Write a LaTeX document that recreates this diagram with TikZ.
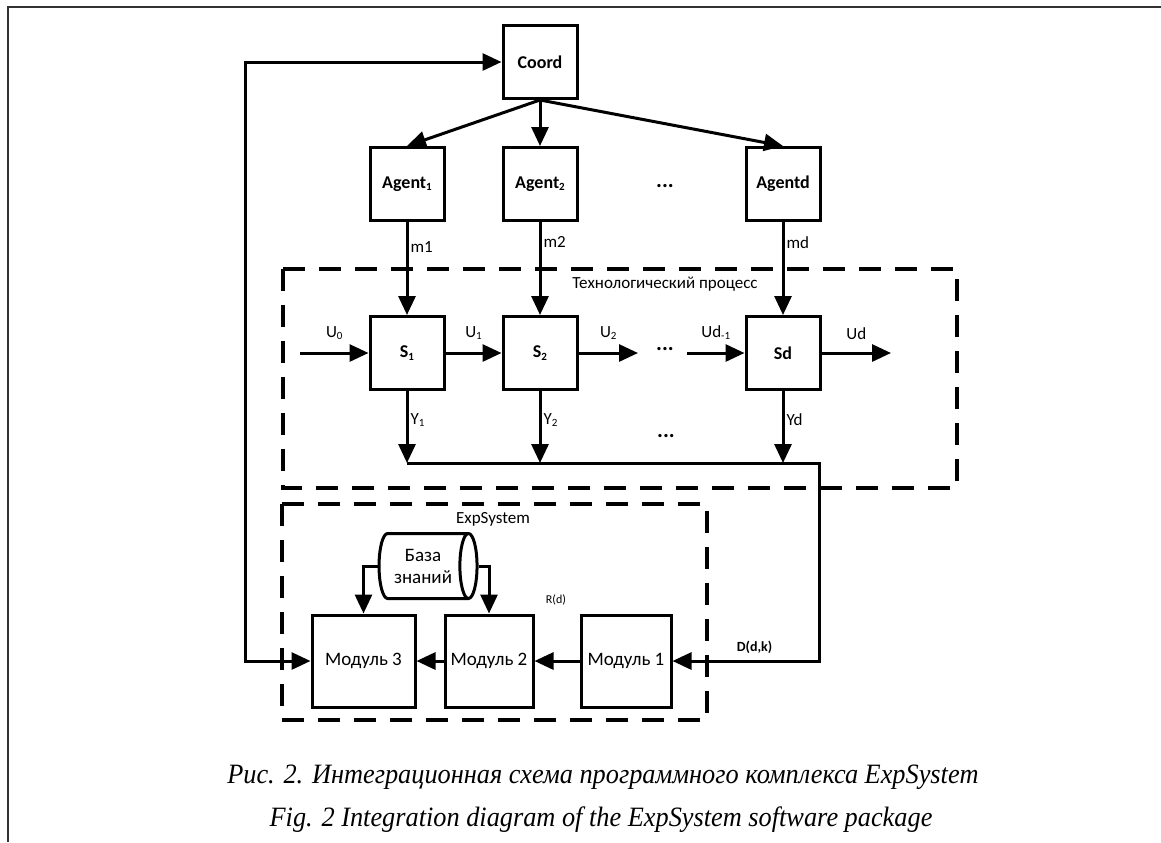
\documentclass[tikz,border=0pt]{standalone}
\usepackage{fontspec}
\setmainfont{Carlito}
\newfontfamily\capfont{Liberation Serif}
\usetikzlibrary{arrows.meta,shapes.geometric}
\newcommand{\ix}[1]{\raisebox{-0.25ex}{\fontsize{5.5}{6}\selectfont #1}}

\begin{document}
\begin{tikzpicture}[x=0.5pt,y=-0.5pt,line join=miter,>={Triangle[length=9.5pt,width=8.5pt]}]
  \tikzstyle{block}=[draw,line width=1.5pt,inner sep=0pt,minimum width=37pt,minimum height=36.5pt,font=\fontsize{9}{10}\selectfont\bfseries]
  \tikzstyle{module}=[draw,line width=1.5pt,inner sep=0pt,minimum height=46pt,font=\fontsize{9.5}{11}\selectfont]
  \tikzstyle{lbl}=[font=\fontsize{8.5}{9}\selectfont,inner sep=1pt]
  \tikzstyle{wire}=[line width=1.5pt]
  \tikzstyle{frame}=[line width=2pt,dash pattern=on 11pt off 7pt]
  \useasboundingbox (0,0) rectangle (1161,842);
  % page frame
  \draw[line width=1pt,black!80] (8,842) -- (8,7) -- (1161,7);
  % coordinator and agents
  \node[block] (Coord) at (540,62)  {Coord};
  \node[block] (A_1) at (407,184) {Agent\ix{1}};
  \node[block] (A_2) at (540,184) {Agent\ix{2}};
  \node[block] (A_d) at (783,184) {Agentd};
  \node[lbl,font=\fontsize{11}{11}\selectfont\bfseries] (dots1) at (665,186) {...};
  % process
  \draw[frame] (283,269) rectangle (957,488);
  \node[lbl] (tp) at (665,284) {Технологический процесс};
  \node[block] (S_1) at (407,353) {S\ix{1}};
  \node[block] (S_2) at (540,353) {S\ix{2}};
  \node[block] (S_d) at (783,353) {Sd};
  \node[lbl,font=\fontsize{11}{11}\selectfont\bfseries] (dots2) at (665,349) {...};
  \node[lbl,font=\fontsize{11}{11}\selectfont\bfseries] (dots3) at (666,436) {...};
  \coordinate (u0) at (300,353);
  \coordinate (u2) at (638,353);
  \coordinate (ud1) at (687,353);
  \coordinate (ud) at (891,353);
  \coordinate (busR) at (819,463);
  % expert system
  \draw[frame] (282,504) rectangle (707,720);
  \node[lbl] (es) at (493,519) {ExpSystem};
  \node[cylinder,draw,line width=1.5pt,aspect=0.5,minimum width=32.5pt,minimum height=49pt,inner sep=0pt,
        align=center,font=\fontsize{9.5}{11}\selectfont] (KB) at (423,566) {База\\знаний};
  \node[module,minimum width=51.5pt] (M_3) at (363.5,661) {Модуль 3};
  \node[module,minimum width=44pt] (M_2) at (489,661) {Модуль 2};
  \node[module,minimum width=45pt] (M_1) at (626,661) {Модуль 1};
  \node[lbl,font=\fontsize{6}{6}\selectfont] (Rd) at (556,600) {R(d)};
  \coordinate (fb) at (245,400);
  % connectors
  \draw[wire,->] (Coord.south) -- (A_1.north);
  \draw[wire,->] (Coord.south) -- (A_2.north);
  \draw[wire,->] (Coord.south) -- (A_d.north);
  \draw[wire,->] (A_1) -- node[lbl,right,pos=0.27] {m1} (S_1);
  \draw[wire,->] (A_2) -- node[lbl,right,pos=0.22] {m2} (S_2);
  \draw[wire,->] (A_d) -- node[lbl,right,pos=0.22] {md} (S_d);
  \draw[wire,->] (u0) -- node[lbl,above=5pt] {U\ix{0}} (S_1);
  \draw[wire,->] (S_1) -- node[lbl,above=5pt] {U\ix{1}} (S_2);
  \draw[wire,->] (S_2) -- node[lbl,above=5pt] {U\ix{2}} (u2);
  \draw[wire,->] (ud1) -- node[lbl,above=5pt] {Ud\ix{-1}} (S_d);
  \draw[wire,->] (S_d) -- node[lbl,above=5pt] {Ud} (ud);
  \draw[wire,->] (S_1) -- node[lbl,right,pos=0.4] {Y\ix{1}} (S_1 |- busR);
  \draw[wire,->] (S_2) -- node[lbl,right,pos=0.4] {Y\ix{2}} (S_2 |- busR);
  \draw[wire,->] (S_d) -- node[lbl,right,pos=0.4] {Yd} (S_d |- busR);
  \draw[wire,->] (S_1 |- busR) -- (busR) |- node[lbl,above=2pt,pos=0.72,font=\fontsize{7}{7}\selectfont\bfseries] {D(d,k)} (M_1);
  \draw[wire,->] (M_1) -- (M_2);
  \draw[wire,->] (M_2) -- (M_3);
  \draw[wire,->] (KB.west) -| (M_3.north);
  \draw[wire,->] (KB.east) -| (M_2.north);
  \draw[wire,<->] (Coord.west) -- (Coord.west -| fb) |- (M_3.west);
  % caption
  \node[font=\capfont\itshape\fontsize{14}{16}\selectfont] (cap1) at (603,777) {\scalebox{0.94}[1]{Рис. 2. Интеграционная схема программного комплекса ExpSystem}};
  \node[font=\capfont\itshape\fontsize{14}{16}\selectfont] (cap2) at (601,820) {\scalebox{0.94}[1]{Fig. 2 Integration diagram of the ExpSystem software package}};
\end{tikzpicture}
\end{document}
